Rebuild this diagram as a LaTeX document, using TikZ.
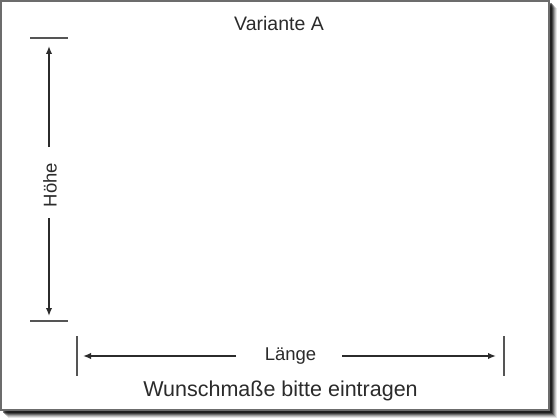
\documentclass[tikz,border=0pt]{standalone}
\usepackage{fontspec}
\setmainfont{Liberation Sans}
\usetikzlibrary{arrows.meta}
\definecolor{ink}{HTML}{2b2b2b}
\tikzset{
  arr/.style={draw=ink, line width=1.8pt, -{Latex[length=8pt,width=6.5pt]}},
  tick/.style={draw=ink!80, line width=1.2pt},
  lbl/.style={text=ink, inner sep=0pt, font=\fontsize{18.5}{20}\selectfont},
}
\begin{document}
\begin{tikzpicture}[x=1pt,y=-1pt]
\useasboundingbox (0,0) rectangle (560,420);
% shadow
\foreach \o/\op in {8/0.10,7/0.15,6/0.2,5/0.3,4/0.4,3/0.5}{
  \fill[black,opacity=\op] (\o,\o) rectangle (549+\o,410+\o);
}
\fill[white] (0,0) rectangle (549,410);
\draw[gray!85!black, line width=2pt] (1,1) rectangle (549,410);
% texts
\node[lbl, font=\fontsize{19.5}{21}\selectfont] (title) at (279,23.5) {Variante A};
\node[lbl, font=\fontsize{21.5}{24}\selectfont] (note) at (280.5,391) {Wunschmaße bitte eintragen};
\node[lbl, rotate=90] (hoehe) at (50,185) {Höhe};
\node[lbl] (laenge) at (290.5,356.5) {Länge};
% vertical dimension
\coordinate (tt1) at (30,38); \coordinate (tt2) at (68,38);
\coordinate (tb1) at (30,321); \coordinate (tb2) at (68,321);
\draw[tick] (tt1) -- (tt2);
\draw[tick] (tb1) -- (tb2);
\coordinate (vtop) at (49,46);
\coordinate (vbot) at (49,316);
\coordinate (va) at (49,147);
\coordinate (vb) at (49,218);
\draw[arr] (va) -- (vtop);
\draw[arr] (vb) -- (vbot);
% horizontal dimension
\coordinate (hl1) at (77,336); \coordinate (hl2) at (77,376);
\coordinate (hr1) at (504,336); \coordinate (hr2) at (504,376);
\draw[tick] (hl1) -- (hl2);
\draw[tick] (hr1) -- (hr2);
\coordinate (hleft) at (83,356);
\coordinate (hright) at (496,356);
\coordinate (ha) at (236,356);
\coordinate (hb) at (342,356);
\draw[arr] (ha) -- (hleft);
\draw[arr] (hb) -- (hright);
\end{tikzpicture}
\end{document}
